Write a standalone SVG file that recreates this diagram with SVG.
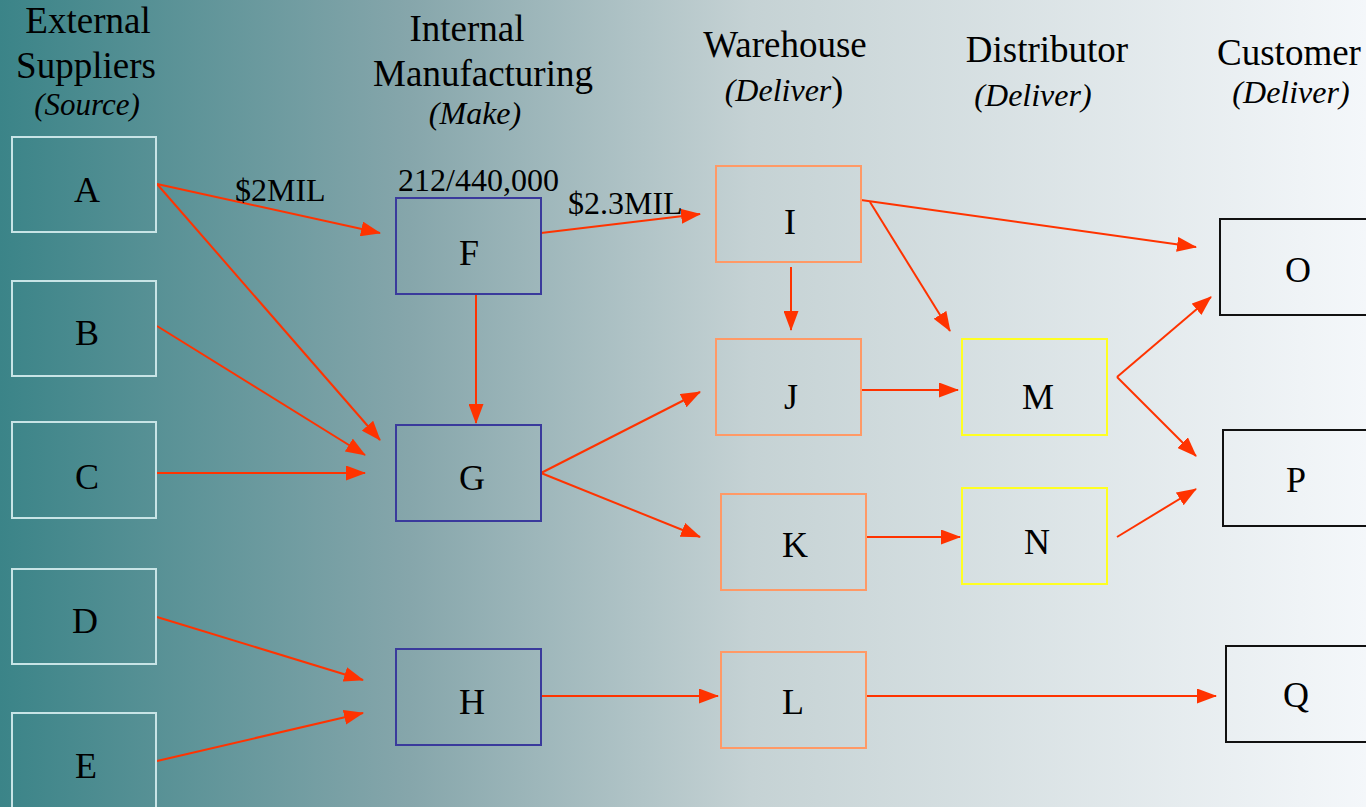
<svg xmlns="http://www.w3.org/2000/svg" width="1366" height="807" viewBox="0 0 1366 807">
<defs>
<linearGradient id="bg" x1="0" y1="0" x2="1" y2="0">
<stop offset="0" stop-color="#3b8488"/>
<stop offset="0.3" stop-color="#86a6ab"/>
<stop offset="0.55" stop-color="#c5d2d4"/>
<stop offset="1" stop-color="#f4f7fa"/>
</linearGradient>
<marker id="ah2" markerWidth="20" markerHeight="15" refX="19" refY="7.5" orient="auto" markerUnits="userSpaceOnUse">
<path d="M0,0 L20,7.5 L0,15 Z" fill="#ff3300"/>
</marker>
</defs>
<style>
text{font-family:'Liberation Serif','Times New Roman',serif;fill:#000}
.h{font-size:37px;text-anchor:middle}
.s{font-size:32px;font-style:italic;text-anchor:middle}
.n{font-size:36px;text-anchor:middle}
.l{font-size:32px}
.src{fill:none;stroke:#c8e4e6;stroke-width:2}
.mk{fill:none;stroke:#3a3a9c;stroke-width:2}
.wh{fill:none;stroke:#ff9966;stroke-width:2}
.ds{fill:none;stroke:#ffff22;stroke-width:2}
.cu{fill:none;stroke:#111;stroke-width:2}
.c{fill:none;stroke:#ff3300;stroke-width:2;marker-end:url(#ah2)}
</style>
<rect width="1366" height="807" fill="url(#bg)"/>
<g id="headers">
<text class="h" x="88" y="33">External</text>
<text class="h" x="86" y="78">Suppliers</text>
<text class="s" x="87" y="115" style="font-size:31px">(Source)</text>
<text class="h" x="467" y="41">Internal</text>
<text class="h" x="483" y="86">Manufacturing</text>
<text class="s" x="475" y="124">(Make)</text>
<text class="h" x="785" y="57">Warehouse</text>
<text class="s" x="784" y="101">(Deliver<tspan style="font-style:normal;font-size:36px">)</tspan></text>
<text class="h" x="1047" y="62">Distributor</text>
<text class="s" x="1033" y="106">(Deliver)</text>
<text class="h" x="1289" y="65">Customer</text>
<text class="s" x="1291" y="103">(Deliver)</text>
</g>
<g id="connectors">
<line class="c" x1="157" y1="184" x2="380" y2="233"/>
<line class="c" x1="157" y1="184" x2="380" y2="440"/>
<line class="c" x1="157" y1="326" x2="365" y2="455"/>
<line class="c" x1="157" y1="473" x2="365" y2="473"/>
<line class="c" x1="157" y1="617" x2="363" y2="680"/>
<line class="c" x1="157" y1="761" x2="363" y2="713"/>
<line class="c" x1="476" y1="295" x2="476" y2="423"/>
<line class="c" x1="541" y1="233" x2="700" y2="214"/>
<line class="c" x1="541" y1="473" x2="700" y2="392"/>
<line class="c" x1="541" y1="473" x2="700" y2="537"/>
<line class="c" x1="541" y1="696" x2="718" y2="696"/>
<line class="c" x1="861" y1="200" x2="1196" y2="247"/>
<line class="c" x1="870" y1="202" x2="950" y2="331"/>
<line class="c" x1="791" y1="267" x2="791" y2="330"/>
<line class="c" x1="861" y1="390" x2="958" y2="390"/>
<line class="c" x1="866" y1="537" x2="960" y2="537"/>
<line class="c" x1="1117" y1="377" x2="1211" y2="297"/>
<line class="c" x1="1117" y1="377" x2="1196" y2="456"/>
<line class="c" x1="1117" y1="537" x2="1196" y2="489"/>
<line class="c" x1="866" y1="696" x2="1216" y2="696"/>
</g>
<g id="labels">
<text class="l" x="235" y="201">$2MIL</text>
<text class="l" x="398" y="191">212/440,000</text>
<text class="l" x="568" y="214">$2.3MIL</text>
</g>
<g id="A"><rect class="src" x="12" y="137" width="144" height="95"/><text class="n" x="87" y="202">A</text></g>
<g id="B"><rect class="src" x="12" y="281" width="144" height="95"/><text class="n" x="87" y="345">B</text></g>
<g id="C"><rect class="src" x="12" y="422" width="144" height="96"/><text class="n" x="87" y="489">C</text></g>
<g id="D"><rect class="src" x="12" y="569" width="144" height="95"/><text class="n" x="85" y="633">D</text></g>
<g id="E"><rect class="src" x="12" y="713" width="144" height="100"/><text class="n" x="86" y="778">E</text></g>
<g id="F"><rect class="mk" x="396" y="198" width="145" height="96"/><text class="n" x="469" y="265">F</text></g>
<g id="G"><rect class="mk" x="396" y="425" width="145" height="96"/><text class="n" x="472" y="490">G</text></g>
<g id="H"><rect class="mk" x="396" y="649" width="145" height="96"/><text class="n" x="472" y="714">H</text></g>
<g id="I"><rect class="wh" x="716" y="166" width="145" height="96"/><text class="n" x="790" y="234">I</text></g>
<g id="J"><rect class="wh" x="716" y="339" width="145" height="96"/><text class="n" x="791" y="409">J</text></g>
<g id="K"><rect class="wh" x="721" y="494" width="145" height="96"/><text class="n" x="795" y="557">K</text></g>
<g id="L"><rect class="wh" x="721" y="652" width="145" height="96"/><text class="n" x="793" y="714">L</text></g>
<g id="M"><rect class="ds" x="962" y="339" width="145" height="96"/><text class="n" x="1038" y="409">M</text></g>
<g id="N"><rect class="ds" x="962" y="488" width="145" height="96"/><text class="n" x="1037" y="554">N</text></g>
<g id="O"><rect class="cu" x="1220" y="219" width="150" height="96"/><text class="n" x="1298" y="282">O</text></g>
<g id="P"><rect class="cu" x="1223" y="430" width="150" height="96"/><text class="n" x="1296" y="492">P</text></g>
<g id="Q"><rect class="cu" x="1226" y="646" width="150" height="96"/><text class="n" x="1296" y="707">Q</text></g>
</svg>
